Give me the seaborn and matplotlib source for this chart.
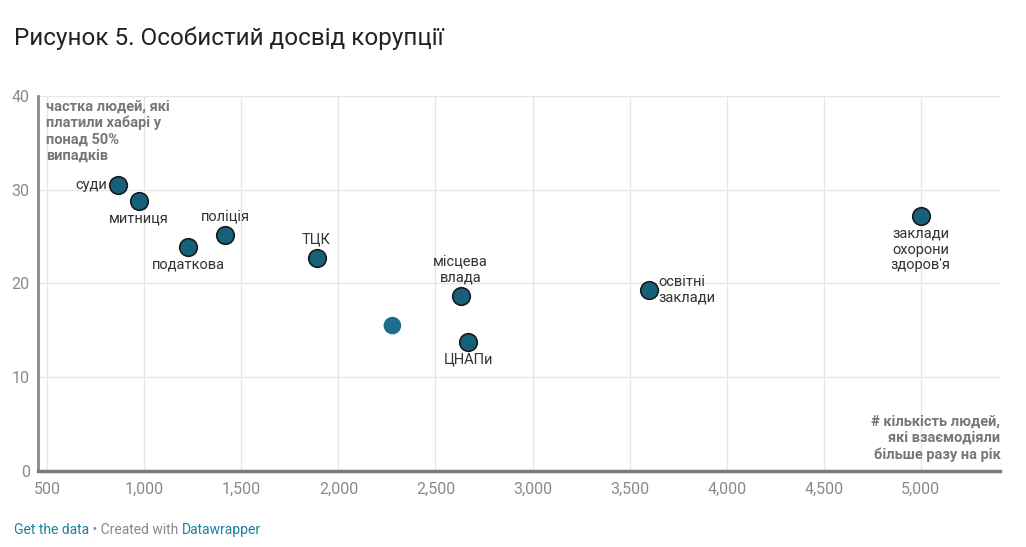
import matplotlib
matplotlib.use("Agg")
import matplotlib.pyplot as plt
import seaborn as sns
import pandas as pd

# ---- data ----
labels = ["суди", "митниця", "податкова", "поліція", "ТЦК", "",
          "місцева\nвлада", "ЦНАПи", "освітні\nзаклади", "заклади\nохорони\nздоров'я"]
people = [866, 974, 1227, 1418, 1887, 2278, 2629, 2670, 3598, 5000]
bribe_share = [30.5, 28.8, 23.9, 25.2, 22.7, 15.5, 18.7, 13.8, 19.3, 27.2]
x_ticks = [500, 1000, 1500, 2000, 2500, 3000, 3500, 4000, 4500, 5000]
y_ticks = [0, 10, 20, 30, 40]

df = pd.DataFrame({"label": labels, "people": people, "share": bribe_share})

sns.set_theme(style="white")
plt.rcParams["font.family"] = ["Roboto", "DejaVu Sans"]

fig = plt.figure(figsize=(10.26, 5.47), dpi=100)
ax = fig.add_axes([0.037, 0.139, 0.938, 0.686])

marker_col = "#17607a"
labeled = df[df["label"] != ""]
unlabeled = df[df["label"] == ""]
sns.scatterplot(data=labeled, x="people", y="share", ax=ax, s=160,
                color=marker_col, edgecolor="#1a1a1a", linewidth=1.2, zorder=3)
sns.scatterplot(data=unlabeled, x="people", y="share", ax=ax, s=160,
                color="#1f6c8b", edgecolor="none", linewidth=0, zorder=3)

ax.set_xlim(452, 5410)
ax.set_ylim(0, 40)
ax.set_xticks(x_ticks)
ax.set_xticklabels([f"{v:,}" for v in x_ticks])
ax.set_yticks(y_ticks)
ax.set_yticklabels([str(v) for v in y_ticks])
ax.grid(True, color="#e6e6e6", linewidth=1)
ax.set_axisbelow(True)
ax.tick_params(axis="both", length=0, labelsize=11.5, colors="#8a8a8a")
ax.tick_params(axis="x", pad=8)
ax.tick_params(axis="y", pad=6)
for s in ["top", "right"]:
    ax.spines[s].set_visible(False)
ax.spines["left"].set_color("#8a8a8a")
ax.spines["left"].set_linewidth(2)
ax.spines["bottom"].set_color("#7a7a7a")
ax.spines["bottom"].set_linewidth(2.5)
ax.set_xlabel("")
ax.set_ylabel("")

# label placements (offset in points, alignment)
place = {
    "суди": ((-8, 0), "right", "center"),
    "митниця": ((0, -8), "center", "top"),
    "податкова": ((0, -8), "center", "top"),
    "поліція": ((0, 8), "center", "bottom"),
    "ТЦК": ((0, 8), "center", "bottom"),
    "місцева\nвлада": ((0, 8), "center", "bottom"),
    "ЦНАПи": ((0, -8), "center", "top"),
    "освітні\nзаклади": ((7, 0), "left", "center"),
    "заклади\nохорони\nздоров'я": ((0, -8), "center", "top"),
}
for _, r in labeled.iterrows():
    off, ha, va = place[r["label"]]
    ax.annotate(r["label"], (r["people"], r["share"]), xytext=off,
                textcoords="offset points", ha=ha, va=va, fontsize=10.5,
                color="#333333", linespacing=1.15, zorder=4)

ax.text(0.008, 0.99, "частка людей, які\nплатили хабарі у\nпонад 50%\nвипадків",
        transform=ax.transAxes, ha="left", va="top", fontsize=10.5, fontweight="bold",
        color="#777777", linespacing=1.2)
ax.text(1.0, 0.025, "# кількість людей,\nякі взаємодіяли\nбільше разу на рік",
        transform=ax.transAxes, ha="right", va="bottom", fontsize=10.5, fontweight="bold",
        color="#777777", linespacing=1.2, multialignment="right")

fig.text(0.0136, 0.93, "Рисунок 5. Особистий досвід корупції", fontsize=17.5,
         color="#222222", ha="left", va="center")

# footer
fs = 10
t1 = fig.text(0.0136, 0.031, "Get the data", fontsize=fs, color="#1d81a2", ha="left", va="center")
fig.canvas.draw()
bb = t1.get_window_extent()
t2 = fig.text(bb.x1 / fig.bbox.width, 0.031, " • Created with ", fontsize=fs,
              color="#888888", ha="left", va="center")
fig.canvas.draw()
bb2 = t2.get_window_extent()
fig.text(bb2.x1 / fig.bbox.width, 0.031, "Datawrapper", fontsize=fs,
         color="#1d81a2", ha="left", va="center")

fig.savefig("out.png", dpi=100, facecolor="white")
